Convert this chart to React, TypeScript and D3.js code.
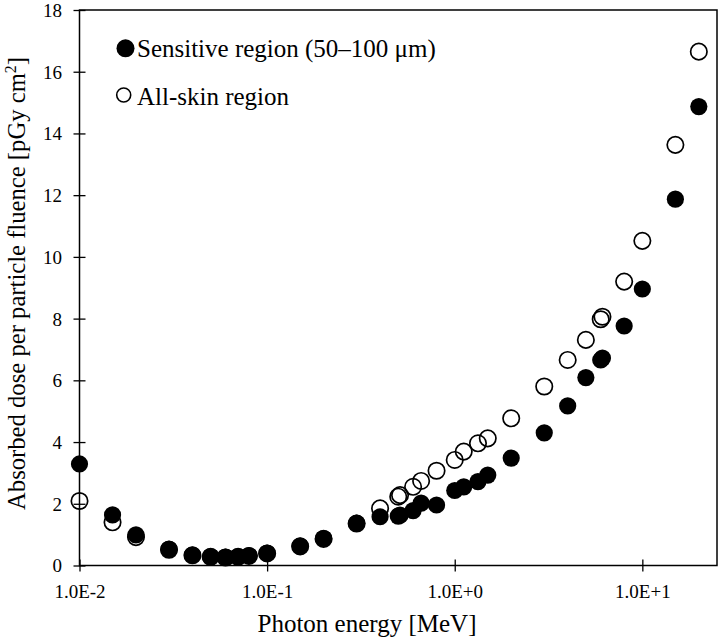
import React, { useRef, useEffect } from 'react'
import { select, scaleLog, scaleLinear, axisBottom, axisLeft } from 'd3'

// photon energies [MeV]
const energies = [
  0.01, 0.015, 0.02, 0.03, 0.04, 0.05, 0.06, 0.07, 0.08, 0.1, 0.15, 0.2, 0.3,
  0.4, 0.5, 0.511, 0.6, 0.662, 0.8, 1, 1.117, 1.33, 1.5, 2, 3, 4, 5, 6, 6.129,
  8, 10, 15, 20,
]
// absorbed dose per fluence [pGy cm2]
const sensitive = [
  3.29, 1.64, 0.99, 0.53, 0.34, 0.29, 0.27, 0.29, 0.32, 0.4, 0.63, 0.88, 1.37,
  1.58, 1.6, 1.63, 1.78, 2.02, 1.96, 2.43, 2.55, 2.72, 2.93, 3.48, 4.3, 5.17,
  6.09, 6.66, 6.72, 7.76, 8.96, 11.87, 14.87,
]
const allSkin = [
  2.09, 1.4, 0.92, 0.51, 0.33, 0.28, 0.26, 0.28, 0.31, 0.39, 0.62, 0.86, 1.36,
  1.85, 2.23, 2.28, 2.55, 2.74, 3.07, 3.42, 3.69, 3.96, 4.12, 4.77, 5.8, 6.66,
  7.31, 7.98, 8.06, 9.2, 10.52, 13.63, 16.65,
]
const xTicks = [0.01, 0.1, 1, 10]
const yTicks = [0, 2, 4, 6, 8, 10, 12, 14, 16, 18]
const seriesNames = ['Sensitive region (50\u2013100 \u03bcm)', 'All-skin region']

const W = 721
const H = 640
const left = 79.5
const right = 717
const top = 10
const bottom = 565.5
const font = '"Liberation Serif", "Times New Roman", serif'

const fmtE = (d) => {
  const e = Math.round(Math.log10(d))
  return `1.0E${e >= 0 ? '+' : ''}${e}`
}

export default function App() {
  const xRef = useRef()
  const yRef = useRef()
  const yTitleRef = useRef()

  const x = scaleLog().domain([0.01, 25]).range([left, right])
  const y = scaleLinear().domain([0, 18]).range([bottom, top])

  useEffect(() => {
    const gx = select(xRef.current)
    gx.call(axisBottom(x).tickValues(xTicks).tickFormat(fmtE).tickSizeOuter(0))
    gx.select('.domain').remove()
    gx.selectAll('.tick line')
      .attr('y1', -6)
      .attr('y2', 6)
      .attr('stroke', '#000')
      .attr('stroke-width', 1.3)
    gx.selectAll('.tick text')
      .attr('y', 32.5)
      .attr('dy', 0)
      .attr('fill', '#000')
      .style('font-family', font)
      .style('font-size', '19px')

    const gy = select(yRef.current)
    gy.call(axisLeft(y).tickValues(yTicks).tickSizeOuter(0))
    gy.select('.domain').remove()
    gy.selectAll('.tick line')
      .attr('x1', -6)
      .attr('x2', 6)
      .attr('stroke', '#000')
      .attr('stroke-width', 1.3)
    gy.selectAll('.tick text')
      .attr('x', -17.5)
      .attr('dy', '0.34em')
      .attr('fill', '#000')
      .style('font-family', font)
      .style('font-size', '19px')

    // y title: squeeze it so it runs from y=510 up to y=57 like the original
    const t = yTitleRef.current
    const bb = t.getBBox()
    const sx = 453 / bb.width
    const ty = 510 + sx * bb.x
    select(t).attr('transform', `translate(25,${ty}) rotate(-90) scale(${sx},1)`)
  }, [])

  return (
    <svg
      width={W}
      height={H}
      style={{ position: 'absolute', left: 0, top: 0, background: '#fff' }}
    >
      <rect x={0} y={0} width={W} height={H} fill="#fff" />
      {/* filled first, open rings on top */}
      {energies.map((e, i) => (
        <circle key={'s' + i} cx={x(e)} cy={y(sensitive[i])} r={8.6} fill="#000" />
      ))}
      {energies.map((e, i) => (
        <circle
          key={'a' + i}
          cx={x(e)}
          cy={y(allSkin[i])}
          r={8.2}
          fill="none"
          stroke="#000"
          strokeWidth={1.7}
        />
      ))}
      <rect
        x={left}
        y={top}
        width={right - left}
        height={bottom - top}
        fill="none"
        stroke="#000"
        strokeWidth={1.5}
      />
      <g ref={xRef} transform={`translate(0,${bottom})`} />
      <g ref={yRef} transform={`translate(${left},0)`} />

      {/* legend */}
      <circle cx={125.5} cy={48.3} r={9} fill="#000" />
      <text x={137} y={56.5} fontFamily={font} fontSize={25} fill="#000">
        {seriesNames[0]}
      </text>
      <circle cx={123.7} cy={95} r={7} fill="none" stroke="#000" strokeWidth={1.6} />
      <text x={137} y={105} fontFamily={font} fontSize={25} fill="#000">
        {seriesNames[1]}
      </text>

      <text
        x={367}
        y={632}
        textAnchor="middle"
        fontFamily={font}
        fontSize={25}
        fill="#000"
      >
        Photon energy [MeV]
      </text>
      <text
        ref={yTitleRef}
        transform="translate(25,510) rotate(-90)"
        fontFamily={font}
        fontSize={25}
        fill="#000"
      >
        Absorbed dose per particle fluence [pGy cm
        <tspan dy={-9} fontSize={16}>2</tspan>
        <tspan dy={9}>]</tspan>
      </text>
    </svg>
  )
}
